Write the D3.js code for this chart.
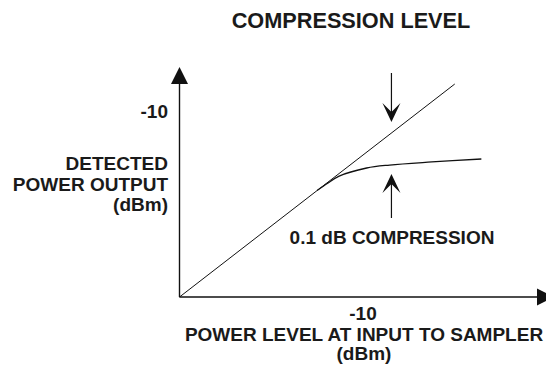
<!DOCTYPE html>
<html>
<head>
<meta charset="utf-8">
<script src="https://cdn.jsdelivr.net/npm/d3@7"></script>
<style>
  html, body { margin: 0; padding: 0; background: #fff; }
  svg { display: block; }
  text { font-family: "Liberation Sans", Arial, Helvetica, sans-serif; font-weight: bold; fill: #1a1a1a; }
</style>
</head>
<body>
<svg id="chart" width="546" height="368"></svg>
<script>
// Input power to the sampler (dBm) and detected output (dBm)
const xTicks = [-10];
const yTicks = [-10];

// Ideal (linear) detector response
const idealIn  = [-30, 0];
const idealOut = [-30, -7.1];

// Actual response bending into compression
const curveIn  = [-15.0, -13.9, -12.6, -9.6, -7.1, -2.5, 2.9];
const curveOut = [-18.55, -17.8, -17.0, -16.13, -15.81, -15.48, -15.16];

// Position where the 0.1 dB compression is marked
const markIn = -6.9;

const titleText = "COMPRESSION LEVEL";
const yLabel = ["DETECTED", "POWER OUTPUT", "(dBm)"];
const xLabel = ["POWER LEVEL AT INPUT TO SAMPLER", "(dBm)"];
const markLabel = "0.1 dB COMPRESSION";

const svg = d3.select("#chart");
const ox = 179.5, oy = 297;

const x = d3.scaleLinear().domain([-30, -10]).range([ox, 363]);
const y = d3.scaleLinear().domain([-30, -10]).range([oy, 111]);

const xEnd = 537, yEnd = 84;

// Axes
svg.append("line").attr("x1", ox).attr("y1", oy).attr("x2", xEnd).attr("y2", oy)
  .attr("stroke", "#111").attr("stroke-width", 1.4);
svg.append("line").attr("x1", ox).attr("y1", oy).attr("x2", ox).attr("y2", yEnd)
  .attr("stroke", "#111").attr("stroke-width", 1.4);
svg.append("path").attr("d", `M${ox},67 L${ox + 8.5},${yEnd} L${ox - 8.5},${yEnd} Z`).attr("fill", "#111");
svg.append("path").attr("d", `M${xEnd + 17},${oy} L${xEnd},${oy - 8.5} L${xEnd},${oy + 8.5} Z`).attr("fill", "#111");

// Tick labels
svg.selectAll(".xt").data(xTicks).enter().append("text")
  .attr("x", d => x(d)).attr("y", 320).attr("text-anchor", "middle")
  .style("font-size", "19px").text(d => d);
svg.selectAll(".yt").data(yTicks).enter().append("text")
  .attr("x", 168).attr("y", d => y(d) + 7).attr("text-anchor", "end")
  .style("font-size", "19px").text(d => d);

// Axis titles
svg.selectAll(".yl").data(yLabel).enter().append("text")
  .attr("x", 168).attr("y", (d, i) => 170 + i * 20.5).attr("text-anchor", "end")
  .style("font-size", "19px").text(d => d);
svg.selectAll(".xl").data(xLabel).enter().append("text")
  .attr("x", 364).attr("y", (d, i) => 341 + i * 19).attr("text-anchor", "middle")
  .style("font-size", "19px").text(d => d);

// Chart title
svg.append("text").attr("x", 351).attr("y", 28).attr("text-anchor", "middle")
  .style("font-size", "21.7px").text(titleText);

// Ideal and compressed responses
const line = d3.line().x(d => x(d[0])).y(d => y(d[1]));
svg.append("path").datum(d3.zip(idealIn, idealOut)).attr("d", line)
  .attr("fill", "none").attr("stroke", "#111").attr("stroke-width", 1);
svg.append("path").datum(d3.zip(curveIn, curveOut))
  .attr("d", line.curve(d3.curveCatmullRom))
  .attr("fill", "none").attr("stroke", "#111").attr("stroke-width", 1.3);

// Arrows pointing at the two curves
const mx = x(markIn);
function arrowHead(tipY, dir) {
  // dir = 1 points down, -1 points up
  const w = 9, h = 19 * dir, notch = 10 * dir;
  return `M${mx},${tipY} L${mx - w},${tipY - h} L${mx},${tipY - notch} L${mx + w},${tipY - h} Z`;
}
svg.append("line").attr("x1", mx).attr("x2", mx).attr("y1", 73).attr("y2", 115)
  .attr("stroke", "#111").attr("stroke-width", 1.2);
svg.append("path").attr("d", arrowHead(122, 1)).attr("fill", "#111");
svg.append("line").attr("x1", mx).attr("x2", mx).attr("y1", 180).attr("y2", 218)
  .attr("stroke", "#111").attr("stroke-width", 1.2);
svg.append("path").attr("d", arrowHead(174, -1)).attr("fill", "#111");

svg.append("text").attr("x", 392).attr("y", 244).attr("text-anchor", "middle")
  .style("font-size", "19px").text(markLabel);
</script>
</body>
</html>
